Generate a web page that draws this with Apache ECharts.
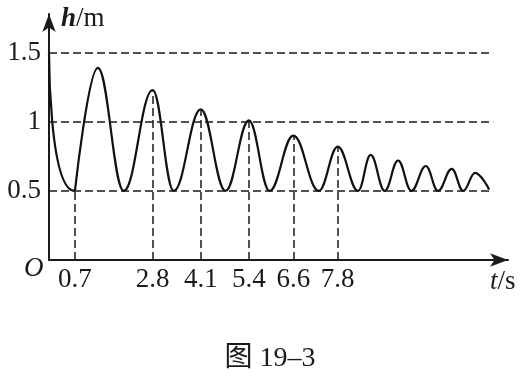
<!DOCTYPE html>
<html>
<head>
<meta charset="utf-8">
<script src="https://cdn.jsdelivr.net/npm/echarts@6/dist/echarts.min.js"></script>
<style>
html,body{margin:0;padding:0;background:#fff;}
#chart{width:525px;height:376px;}
</style>
</head>
<body>
<div id="chart"></div>
<script>
// time (s) of each turning point of the curve
const tValues = [0, 0.7, 1.32, 2.02, 2.8, 3.37, 4.1, 4.77, 5.4, 5.96, 6.6, 7.29, 7.8, 8.35, 8.69, 9.07, 9.43, 9.79, 10.18, 10.51, 10.88, 11.19, 11.51, 11.89];
// height (m) at each turning point
const hValues = [1.5, 0.5, 1.39, 0.5, 1.23, 0.5, 1.09, 0.5, 1.01, 0.5, 0.9, 0.5, 0.82, 0.5, 0.76, 0.5, 0.72, 0.5, 0.68, 0.5, 0.66, 0.5, 0.63, 0.51];
// labelled times on the t axis (dashed drop lines)
const xTicks = [0.7, 2.8, 4.1, 5.4, 6.6, 7.8];
// labelled heights on the h axis (dashed guide lines)
const yTicks = [0.5, 1, 1.5];
const guideEnd = 12.0;
const xMax = 12.4;
const yMax = 1.78;

const INK = '#1a1a1a';
const CURVE = '#111';
const SERIF = '"Liberation Serif", "DejaVu Serif", serif';
const FS = 27;

const curve = tValues.map((t, i) => [t, hValues[i]]);
function hAt(t) { const i = tValues.indexOf(t); return i >= 0 ? hValues[i] : 0; }

const guides = [];
yTicks.forEach(v => guides.push([{coord: [0, v]}, {coord: [guideEnd, v]}]));
xTicks.forEach(t => guides.push([{coord: [t, 0]}, {coord: [t, hAt(t)]}]));

// first steep drop: from release point to first minimum
const firstDrop = [[tValues[0], hValues[0], tValues[1], hValues[1]]];

const chart = echarts.init(document.getElementById('chart'), null, {renderer: 'canvas'});
chart.setOption({
  animation: false,
  backgroundColor: '#fff',
  grid: {left: 49, right: 17, top: 14, bottom: 116, containLabel: false, outerBoundsMode: 'none'},
  xAxis: {
    type: 'value', min: 0, max: xMax,
    name: '{t|t}/s', nameLocation: 'end', nameGap: -18,
    nameTextStyle: {fontFamily: SERIF, fontSize: FS, color: INK, align: 'left', verticalAlign: 'top', padding: [8, 0, 0, 0],
      rich: {t: {fontFamily: SERIF, fontSize: FS, color: INK, fontStyle: 'italic'}}},
    axisLine: {show: true, symbol: ['none', 'arrow'], symbolSize: [10, 18], lineStyle: {color: INK, width: 2}},
    axisTick: {show: false},
    splitLine: {show: false},
    axisLabel: {customValues: xTicks, fontFamily: SERIF, fontSize: FS, color: INK, margin: 6}
  },
  yAxis: {
    type: 'value', min: 0, max: yMax,
    name: '{h|h}/m', nameLocation: 'end', nameGap: -5,
    nameTextStyle: {fontFamily: SERIF, fontSize: FS, color: INK, align: 'left', verticalAlign: 'middle', padding: [0, 0, 0, 12],
      rich: {h: {fontFamily: SERIF, fontSize: FS, color: INK, fontStyle: 'italic', fontWeight: 'bold'}}},
    axisLine: {show: true, symbol: ['none', 'arrow'], symbolSize: [10, 18], lineStyle: {color: INK, width: 2}},
    axisTick: {show: false},
    splitLine: {show: false},
    axisLabel: {customValues: yTicks, fontFamily: SERIF, fontSize: FS, color: INK, margin: 8}
  },
  series: [
    {
      type: 'line', data: [], silent: true, z: 1,
      markLine: {
        silent: true, symbol: ['none', 'none'], label: {show: false}, animation: false,
        lineStyle: {color: INK, width: 1.5, type: [8, 4]},
        emphasis: {disabled: true},
        data: guides
      }
    },
    {
      type: 'custom', data: firstDrop, silent: true, z: 3,
      encode: {x: [0, 2], y: [1, 3]},
      renderItem: function (params, api) {
        const p0 = api.coord([api.value(0), api.value(1)]);
        const p1 = api.coord([api.value(2), api.value(3)]);
        return {
          type: 'bezierCurve',
          shape: {x1: p0[0], y1: p0[1], x2: p1[0], y2: p1[1],
                  cpx1: p0[0], cpy1: p0[1], cpx2: p0[0], cpy2: p1[1]},
          style: {stroke: CURVE, lineWidth: 2.2, fill: null}
        };
      }
    },
    {
      type: 'line', data: curve.slice(1), silent: true, z: 4,
      showSymbol: false, symbol: 'none',
      smooth: 0.4, smoothMonotone: 'x',
      lineStyle: {color: CURVE, width: 2.2}
    }
  ],
  graphic: [
    {type: 'text', left: 24, top: 255, silent: true,
     style: {text: 'O', font: 'italic 27px "Liberation Serif"', fill: INK}},
    {type: 'text', x: 270, y: 359, silent: true,
     style: {text: '图 19–3', fontFamily: '"Liberation Serif", "Noto Sans CJK SC"', fontSize: 28, fill: INK, align: 'center', verticalAlign: 'middle'}}
  ]
});
</script>
</body>
</html>
